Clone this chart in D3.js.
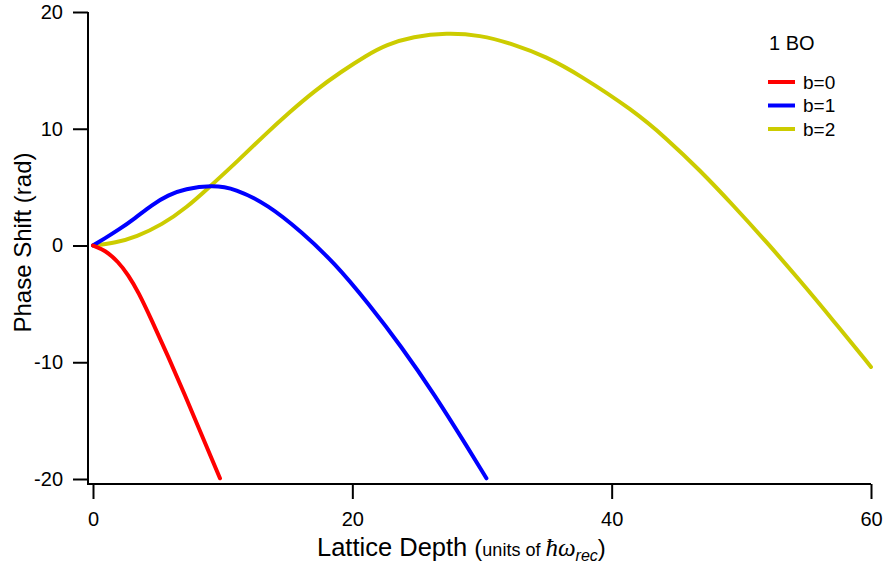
<!DOCTYPE html>
<html>
<head>
<meta charset="utf-8">
<script src="https://cdn.jsdelivr.net/npm/d3@7"></script>
<style>
  body { margin: 0; background: #fff; }
  svg { font-family: "Liberation Sans", Arial, sans-serif; }
</style>
</head>
<body>
<div id="chart"></div>
<script>
// values
const b0X = [0, 0.92, 1.95, 2.72, 3.49, 4.52, 5.80, 7.09, 8.38, 9.79];
const b0Y = [0, -0.39, -1.39, -2.53, -3.96, -6.38, -9.52, -12.8, -16.23, -19.94];

const b1X = [0, 0.92, 1.95, 3.24, 4.52, 5.80, 7.09, 9.15, 10.95, 13.51, 16.08, 18.65, 21.22, 23.79, 26.36, 28.93, 30.34];
const b1Y = [0, 0.62, 1.33, 2.33, 3.47, 4.33, 4.84, 5.18, 4.90, 3.47, 1.17, -1.52, -4.95, -8.67, -12.81, -17.37, -19.94];

const b2X = [0, 1.76, 3.34, 5.31, 7.29, 8.87, 11.24, 13.22, 15.19, 17.17, 19.14, 21.12, 22.6, 24.69, 27.26, 29.83, 32.39, 34.97, 37.53, 41.64, 44.22, 46.78, 49.35, 51.92, 54.49, 57.06, 60];
const b2Y = [0, 0.24, 0.75, 1.76, 3.32, 4.90, 7.32, 9.46, 11.46, 13.32, 14.89, 16.3, 17.2, 17.9, 18.23, 18.03, 17.26, 16.17, 14.6, 11.6, 9.18, 6.47, 3.47, 0.33, -2.96, -6.38, -10.4];

const seriesNames = ["b=0", "b=1", "b=2"];
const seriesColors = ["#ff0000", "#0000ff", "#cccc00"];
const xTicks = [0, 20, 40, 60];
const yTicks = [-20, -10, 0, 10, 20];

const width = 886, height = 570;

const svg = d3.select("#chart")
  .append("svg")
  .attr("width", width)
  .attr("height", height);

const xScale = d3.scaleLinear().domain([0, 60]).range([93, 871]);
const yScale = d3.scaleLinear().domain([-20, 20]).range([479, 12]);

const axisX = 484, axisY = 88;

// axes
const gy = svg.append("g")
  .attr("transform", `translate(${axisY},0)`)
  .call(d3.axisLeft(yScale).tickValues(yTicks).tickSize(15).tickSizeOuter(0).tickPadding(10)
    .tickFormat(d => String(d)));
gy.select(".domain").remove();

const gx = svg.append("g")
  .attr("transform", `translate(0,${axisX})`)
  .call(d3.axisBottom(xScale).tickValues(xTicks).tickSize(15).tickSizeOuter(0).tickPadding(13)
    .tickFormat(d => String(d)));
gx.select(".domain").remove();

svg.selectAll(".tick line").attr("stroke", "#000").attr("stroke-width", 2);
svg.selectAll(".tick text").attr("font-size", "20px").attr("fill", "#000")
  .attr("font-family", "Liberation Sans, Arial, sans-serif");

svg.append("line")
  .attr("x1", axisY).attr("x2", axisY)
  .attr("y1", yScale(20)).attr("y2", axisX + 1)
  .attr("stroke", "#000").attr("stroke-width", 2);
svg.append("line")
  .attr("x1", axisY - 1).attr("x2", xScale(60))
  .attr("y1", axisX).attr("y2", axisX)
  .attr("stroke", "#000").attr("stroke-width", 2);

// axis titles
svg.append("text")
  .attr("transform", `translate(31,${yScale(0) - 3}) rotate(-90)`)
  .attr("text-anchor", "middle")
  .attr("font-size", "24px")
  .text("Phase Shift (rad)");

const xt = svg.append("text")
  .attr("x", 317).attr("y", 556)
  .attr("font-size", "25.5px");
xt.append("tspan").text("Lattice Depth ");
xt.append("tspan").attr("font-size", "24px").text("(");
xt.append("tspan").attr("font-size", "18px").text("units of ");
xt.append("tspan").attr("font-size", "25px").attr("font-style", "italic").attr("font-family", "Liberation Serif, serif").text("ħω");
xt.append("tspan").attr("font-size", "16px").attr("font-style", "italic").attr("dy", 5).text("rec");
xt.append("tspan").attr("font-size", "24px").attr("dy", -5).text(")");

// curves
const allSeries = [
  { xs: b0X, ys: b0Y },
  { xs: b1X, ys: b1Y },
  { xs: b2X, ys: b2Y }
];

const line = d3.line()
  .x(d => xScale(d[0]))
  .y(d => yScale(d[1]))
  .curve(d3.curveBasis);

// yellow first, then blue, red on top
[2, 1, 0].forEach(i => {
  const s = allSeries[i];
  const pts = s.xs.map((x, j) => [x, s.ys[j]]);
  svg.append("path")
    .datum(pts)
    .attr("fill", "none")
    .attr("stroke", seriesColors[i])
    .attr("stroke-width", 4)
    .attr("stroke-linecap", "round")
    .attr("d", line);
});

// legend
svg.append("text")
  .attr("x", 769).attr("y", 50)
  .attr("font-size", "20px")
  .text("1 BO");

const legend = svg.append("g").attr("transform", "translate(768,82)");
seriesNames.forEach((name, i) => {
  const g = legend.append("g").attr("transform", `translate(0,${i * 23.5})`);
  g.append("line")
    .attr("x1", 0).attr("x2", 27)
    .attr("stroke", seriesColors[i]).attr("stroke-width", 4);
  g.append("text")
    .attr("x", 35).attr("y", 0).attr("dy", "0.35em")
    .attr("font-size", "19px")
    .text(name);
});
</script>
</body>
</html>
